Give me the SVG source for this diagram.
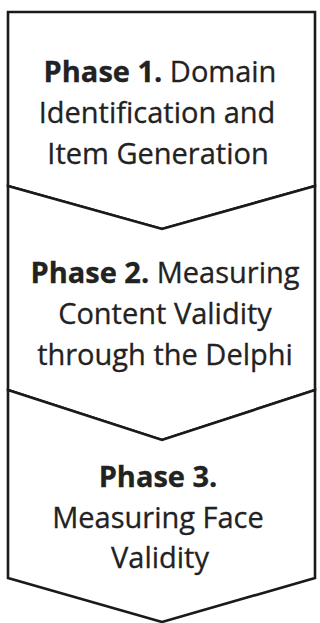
<svg xmlns="http://www.w3.org/2000/svg" width="320" height="623" viewBox="0 0 320 623">
<style>
.shape{fill:#ffffff;stroke:#1a1a1a;stroke-width:2.6;stroke-linejoin:miter}
.t{font-family:"Open Sans","Noto Sans","Liberation Sans",sans-serif;font-size:29px;fill:#222222;text-anchor:middle;stroke:#222222;stroke-width:0.3}
.b{font-weight:bold}
</style>
<rect width="320" height="623" fill="#ffffff"/>
<g id="phase1">
<polygon class="shape" points="8,12 315,12 315,186 162,229 8,186"/>
<text class="t" x="160" y="82"><tspan class="b">Phase 1.</tspan> Domain</text>
<text class="t" x="157" y="123">Identification and</text>
<text class="t" x="158" y="164">Item Generation</text>
</g>
<g id="phase2">
<polygon class="shape" points="8,186 162,229 315,186 315,390 162,440 8,390"/>
<text class="t" x="165" y="283"><tspan class="b">Phase 2.</tspan> Measuring</text>
<text class="t" x="165" y="324">Content Validity</text>
<text class="t" x="165" y="365">through the Delphi</text>
</g>
<g id="phase3">
<polygon class="shape" points="8,390 162,440 315,390 315,578 162,622 8,578"/>
<text class="t" x="158" y="487"><tspan class="b">Phase 3.</tspan></text>
<text class="t" x="158" y="528">Measuring Face</text>
<text class="t" x="160" y="568">Validity</text>
</g>
<g id="connectors"/>
</svg>
